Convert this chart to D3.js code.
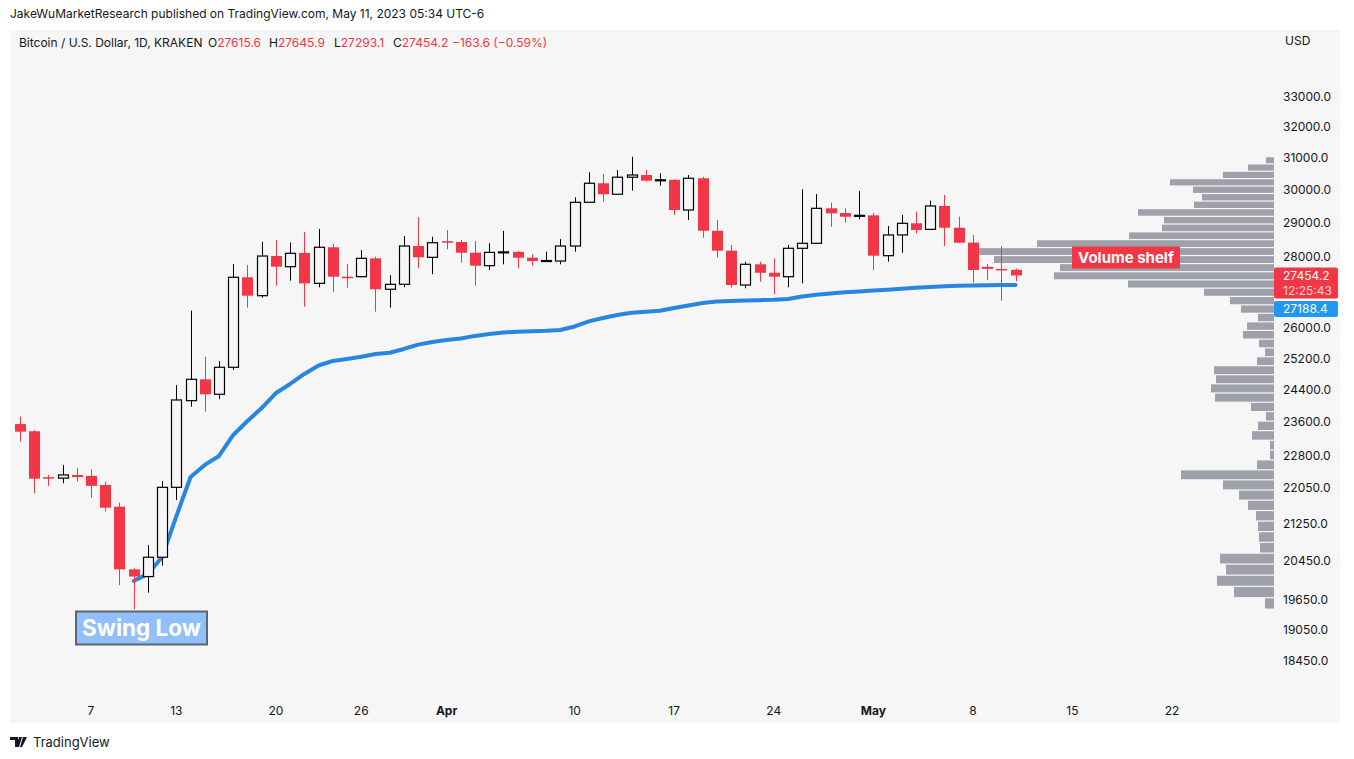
<!DOCTYPE html>
<html>
<head>
<meta charset="utf-8">
<script src="https://cdn.jsdelivr.net/npm/d3@7"></script>
<style>
  html, body { margin: 0; padding: 0; background: #ffffff; }
  svg { display: block; font-family: Inter, "Noto Sans", Roboto, sans-serif; }
</style>
</head>
<body>
<svg id="chart" width="1354" height="759"></svg>
<script>
// ---------------- DATA ----------------
const startDate = new Date(Date.UTC(2023, 2, 2));   // Mar 2, 2023
const endDate   = new Date(Date.UTC(2023, 4, 12));  // exclusive (last candle May 11)
const dates = d3.utcDay.range(startDate, endDate);

const open  = [23555,23381,22300,22278,22351,22330,22121,21631,20278,20128,20533,22068,24130,24667,24289,24975,27403,26888,28010,27704,28100,27233,28264,27420,27420,27944,27066,27205,28300,27973,28440,28417,28106,27732,28110,28130,27962,27860,27866,28300,29605,30192,29852,30381,30450,30272,30300,29371,30348,28749,28166,27185,27772,27531,27420,28234,28380,29422,29280,29190,29210,28020,28625,28971,28790,29493,28839,28400,27700,27640,27615.6];
const high  = [23734,23410,22351,22583,22510,22480,22196,21722,20300,20793,22212,24522,26476,25249,25138,27780,27752,28426,28476,28406,28713,28802,28361,27780,28185,27990,27466,28594,29158,28574,28773,28476,28447,28380,28744,28155,28061,28135,28505,29759,30535,30482,30608,31029,30608,30504,30320,30450,30395,29069,28331,27847,27847,27944,28331,30004,29859,29595,29422,29951,29280,28891,29221,29320,29654,29829,29169,28625,27780,28300,27645.9];
const low   = [23137,21931,22100,22160,22196,21833,21522,19952,19461,19797,20354,21780,23982,23859,24165,24906,26559,26832,27165,27308,26585,27122,26981,27110,27403,26446,26559,27122,27657,27488,28204,27818,27165,27609,27772,27657,27732,27850,27772,28135,29590,29624,29840,29961,30240,30115,29221,29069,28545,27962,27113,27093,27279,26927,27122,27233,28370,28867,28991,29090,27609,27847,28106,28673,28780,28300,28390,27251,27327,26749,27293.1];
const close = [23371,22265,22275,22351,22300,22100,21609,20278,20128,20533,22068,24147,24667,24289,24975,27403,26888,28010,27704,28089,27233,28264,27420,27400,27944,27066,27205,28300,27973,28397,28400,28106,27732,28115,28130,27962,27866,27880,28300,29605,30192,29852,30381,30450,30272,30300,29371,30348,28749,28166,27185,27772,27531,27420,28234,28380,29422,29271,29169,29210,28020,28625,28971,28773,29493,28839,28397,27609,27640,27617.8,27454.2];

// Anchored VWAP from the swing low (starts Mar 10)
const vwapStartIndex = 8;
const vwap = [20037,20183,20540,21420,22305,22583,22793,23291,23629,23948,24321,24549,24803,25021,25138,25190,25249,25318,25353,25451,25565,25636,25689,25729,25796,25849,25888,25909,25922,25933,25954,26048,26184,26278,26360,26421,26448,26473,26549,26617,26686,26727,26741,26755,26765,26775,26795,26865,26915,26950,26980,27005,27030,27055,27080,27110,27130,27150,27165,27175,27182,27186,27188.4];

// Visible-range volume profile (top row = highest price bin)
const vpHigh = 31029;
const vpLow  = 19461;
const vpVolumes = [8,26,51,104,81,72,80,136,110,112,145,237,295,280,214,220,146,70,44,33,16,27,31,15,9,17,60,58,63,59,23,8,16,22,4,4,17,93,51,35,26,18,16,15,14,54,48,57,40,9];

// Axis ticks
const yTicks = [33000,32000,31000,30000,29000,28000,26000,25200,24400,23600,22800,22050,21250,20450,19650,19050,18450];
const xTickDates  = ["2023-03-07","2023-03-13","2023-03-20","2023-03-26","2023-04-01","2023-04-10","2023-04-17","2023-04-24","2023-05-01","2023-05-08","2023-05-15","2023-05-22"];
const xTickLabels = ["7","13","20","26","Apr","10","17","24","May","8","15","22"];
const xTickBold   = [false,false,false,false,true,false,false,false,true,false,false,false];

const lastPrice = 27454.2;
const lastVwap = 27188.4;
const countdown = "12:25:43";

// ---------------- LAYOUT ----------------
const RED = "#f23645", BLUE_LINE = "#2787e0", BLUE_LABEL = "#2196f3", TXT = "#131722", BG = "#f6f6f6", VPC = "#9ea1a9";
const svg = d3.select("#chart");

const x = d3.scaleUtc()
  .domain([new Date(Date.UTC(2023,2,7)), new Date(Date.UTC(2023,4,22))])
  .range([91, 1172]);
const y = d3.scaleLog().domain([18450, 33000]).range([661, 97]);

// panel
svg.append("rect").attr("x", 10).attr("y", 30).attr("width", 1330).attr("height", 693).attr("fill", BG);

// header
svg.append("text").attr("x", 10).attr("y", 18).attr("font-size", 12).attr("fill", TXT)
  .text("JakeWuMarketResearch published on TradingView.com, May 11, 2023 05:34 UTC-6");

const n = close.length;
const hdr = svg.append("text").attr("y", 47).attr("font-size", 12).attr("fill", TXT);
hdr.append("tspan").attr("x", 19).text("Bitcoin / U.S. Dollar, 1D, KRAKEN");
const ohlcParts = [["O", open[n-1]], ["H", high[n-1]], ["L", low[n-1]], ["C", close[n-1]]];
const ohlcX = [208, 269, 334, 393];
ohlcParts.forEach((p, i) => {
  hdr.append("tspan").attr("x", ohlcX[i]).text(p[0]);
  hdr.append("tspan").attr("fill", RED).text(p[1].toFixed(1));
});
const chg = close[n-1] - close[n-2];
hdr.append("tspan").attr("x", 452).attr("fill", RED)
  .text("\u2212" + Math.abs(chg).toFixed(1) + " (\u2212" + Math.abs(chg / close[n-2] * 100).toFixed(2) + "%)");

svg.append("text").attr("x", 1285).attr("y", 45).attr("font-size", 12).attr("fill", TXT).text("USD");

// ---------------- VOLUME PROFILE ----------------
const vpRight = 1274;
const vx = d3.scaleLinear().domain([0, 300]).range([0, 300]);
const binSize = (vpHigh - vpLow) / vpVolumes.length;
svg.append("g").selectAll("rect").data(vpVolumes).join("rect")
  .attr("x", d => vpRight - vx(d))
  .attr("width", d => vx(d))
  .attr("y", (d, i) => y(vpHigh - i * binSize) + 0.5)
  .attr("height", (d, i) => Math.max(1, y(vpHigh - (i + 1) * binSize) - y(vpHigh - i * binSize) - 1.2))
  .attr("fill", VPC);

// ---------------- VWAP LINE ----------------
const vwapPts = vwap.map((v, i) => [x(dates[vwapStartIndex + i]), y(v)]);
svg.append("path").attr("d", d3.line()(vwapPts))
  .attr("fill", "none").attr("stroke", BLUE_LINE).attr("stroke-width", 4)
  .attr("stroke-linejoin", "round").attr("stroke-linecap", "round");

// ---------------- CANDLES ----------------
const bw = 10;
const cg = svg.append("g");
dates.forEach((dt, i) => {
  const cx = Math.round(x(dt));
  const o = open[i], h = high[i], l = low[i], c = close[i];
  const up = c >= o;
  const col = up ? "#000000" : RED;
  const yTop = y(Math.max(o, c)), yBot = y(Math.min(o, c));
  if (up) {
    cg.append("line").attr("x1", cx + 0.5).attr("x2", cx + 0.5).attr("y1", y(h)).attr("y2", yTop).attr("stroke", col);
    cg.append("line").attr("x1", cx + 0.5).attr("x2", cx + 0.5).attr("y1", yBot).attr("y2", y(l)).attr("stroke", col);
    const hgt = Math.max(1, yBot - yTop);
    cg.append("rect").attr("x", cx - bw/2 + 0.5).attr("y", yTop).attr("width", bw).attr("height", hgt)
      .attr("fill", hgt > 2 ? BG : "none").attr("stroke", col).attr("stroke-width", 1.2);
  } else {
    cg.append("line").attr("x1", cx + 0.5).attr("x2", cx + 0.5).attr("y1", y(h)).attr("y2", y(l)).attr("stroke", col);
    cg.append("rect").attr("x", cx - bw/2).attr("y", yTop).attr("width", bw + 1).attr("height", Math.max(1.5, yBot - yTop))
      .attr("fill", col);
  }
});

// ---------------- AXES ----------------
const yAxis = svg.append("g").attr("font-size", 12).attr("fill", TXT);
yTicks.forEach(t => {
  yAxis.append("text").attr("x", 1283).attr("y", y(t)).attr("dy", "0.35em").text(t.toFixed(1));
});

const xAxis = svg.append("g").attr("font-size", 12).attr("fill", TXT);
xTickDates.forEach((d, i) => {
  xAxis.append("text").attr("x", x(new Date(d + "T00:00:00Z"))).attr("y", 715)
    .attr("text-anchor", "middle").attr("font-weight", xTickBold[i] ? 700 : 400).text(xTickLabels[i]);
});

// price labels
const pl = svg.append("g");
const ly = y(lastPrice);
pl.append("rect").attr("x", 1274).attr("y", ly - 8).attr("width", 64).attr("height", 31).attr("rx", 2).attr("fill", RED);
pl.append("text").attr("x", 1283).attr("y", ly).attr("dy", "0.35em").attr("font-size", 12).attr("fill", "#fff").text(lastPrice.toFixed(1));
pl.append("text").attr("x", 1283).attr("y", ly + 15).attr("dy", "0.35em").attr("font-size", 12).attr("fill", "#ffd6da").text(countdown);
const by = ly + 33.5;
pl.append("rect").attr("x", 1274).attr("y", by - 8).attr("width", 64).attr("height", 16).attr("rx", 2).attr("fill", BLUE_LABEL);
pl.append("text").attr("x", 1283).attr("y", by).attr("dy", "0.35em").attr("font-size", 12).attr("fill", "#fff").text(lastVwap.toFixed(1));

// ---------------- ANNOTATIONS ----------------
const sw = svg.append("g");
sw.append("rect").attr("x", 76).attr("y", 611.5).attr("width", 131).attr("height", 33).attr("fill", "#90bff9")
  .attr("stroke", "#5c6670").attr("stroke-width", 2);
sw.append("text").attr("x", 141.5).attr("y", 628).attr("dy", "0.36em").attr("text-anchor", "middle")
  .attr("font-size", 22.5).attr("font-weight", 700).attr("fill", "#ffffff").text("Swing Low");

const vs = svg.append("g");
vs.append("rect").attr("x", 1072).attr("y", 246.5).attr("width", 108).attr("height", 22).attr("fill", RED);
vs.append("text").attr("x", 1126).attr("y", 257.5).attr("dy", "0.36em").attr("text-anchor", "middle")
  .attr("font-size", 15).attr("font-weight", 700).attr("fill", "#ffffff").text("Volume shelf");

// ---------------- FOOTER ----------------
const ft = svg.append("g");
ft.append("path").attr("d", "M10,737 h8 v10 h-3 v-7 h-5 z M19,737 h3 l-3,10 h-3 z M23,737 h4 l-5,10 h-2 z").attr("fill", TXT);
ft.append("text").attr("x", 33).attr("y", 747).attr("font-size", 13).attr("fill", TXT).text("TradingView");
</script>
</body>
</html>
